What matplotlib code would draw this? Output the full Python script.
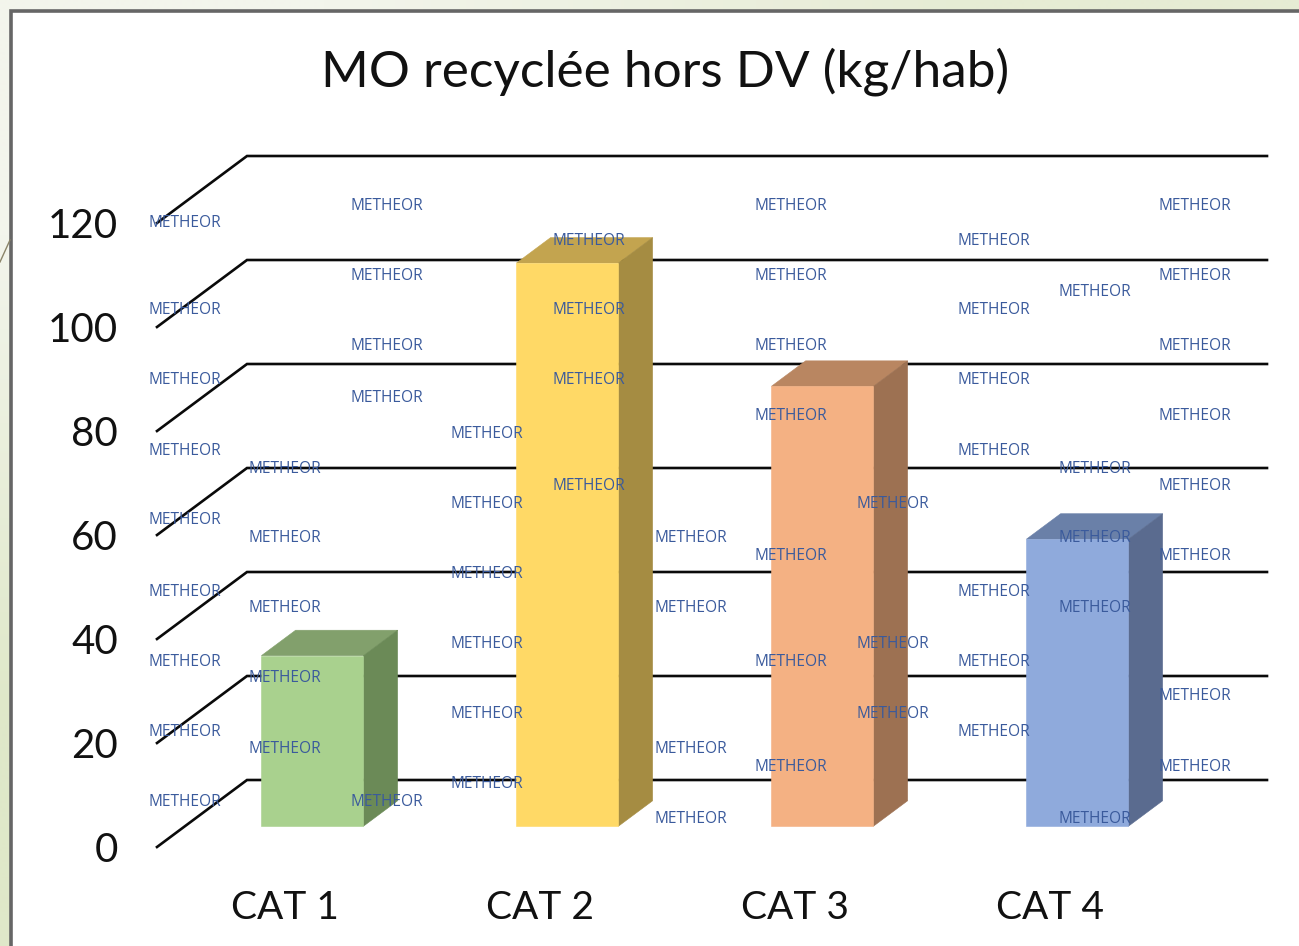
import matplotlib
matplotlib.use("Agg")
import numpy as np
import matplotlib.pyplot as plt
from matplotlib.colors import to_rgb
from matplotlib.patches import Rectangle

# Data ---------------------------------------------------------------------
categorias = ["CAT 1", "CAT 2", "CAT 3", "CAT 4"]
valores = [32.8, 108.3, 84.6, 55.2]
ticks_y = [0, 20, 40, 60, 80, 100, 120]
titulo = "MO recyclée hors DV (kg/hab)"
marca = "METHEOR"

color_frente = ["#A9D18E", "#FFD966", "#F4B183", "#8FAADC"]
color_techo = ["#82A06C", "#C3A44F", "#B98661", "#6A80A8"]
color_lado = ["#6B8A57", "#A58C42", "#9D7152", "#5A6B8F"]

W, H = 1299, 946
FUENTE = ["Lato", "DejaVu Sans"]
plt.rcParams["font.family"] = FUENTE


def main():
    fig = plt.figure(figsize=(W / 100, H / 100), dpi=100, facecolor="#EBF0DC")

    # pale green slide background behind the panel
    fondo = fig.add_axes([0, 0, 1, 1], zorder=-3)
    esquinas = np.array([[to_rgb("#F3F5EC"), to_rgb("#E6ECD4")],
                         [to_rgb("#DFE8C9"), to_rgb("#DFE8C9")]])
    fondo.imshow(esquinas, aspect="auto", interpolation="bilinear")
    fondo.axis("off")

    # white panel with the grey border, runs off the right and bottom edges
    fig.add_artist(Rectangle((11.3 / W, -0.1), 1.2, 1.1 - 11 / H, transform=fig.transFigure,
                             facecolor="white", edgecolor="#666666", lw=2.6, zorder=-2))
    fig.add_artist(plt.Line2D([0, 10 / W], [1 - 262 / H, 1 - 240 / H], color="#8A8468", lw=1, zorder=-2))

    ax = fig.add_axes([157 / W, 1 - 847 / H, 1020 / W, 624 / H])
    ax.patch.set_alpha(0)
    ax.set_xlim(-0.5, 3.5)
    ax.set_ylim(0, 120)
    for s in ax.spines.values():
        s.set_visible(False)

    # depth of the 3D box, in data units
    prof_x = 90 / 255
    prof_y = 67 / 5.2

    # floor and wall lines
    for t in ticks_y:
        ax.plot([-0.5, -0.5 + prof_x, 3.5 + prof_x], [t, t + prof_y, t + prof_y],
                color="#0A0A0A", lw=1.9, clip_on=False, zorder=1, solid_joinstyle="miter")

    # bars
    ancho = 0.4
    for i, v in enumerate(valores):
        x0 = i - ancho / 2 + prof_x * 0.31
        x1 = x0 + ancho
        y0 = prof_y * 0.31
        y1 = y0 + v
        dx = prof_x * 0.38
        dy = prof_y * 0.38
        ax.fill([x0, x1, x1 + dx, x0 + dx], [y1, y1, y1 + dy, y1 + dy],
                color=color_techo[i], lw=0.4, clip_on=False, zorder=2)
        ax.fill([x1, x1 + dx, x1 + dx, x1], [y0, y0 + dy, y1 + dy, y1],
                color=color_lado[i], lw=0.4, clip_on=False, zorder=2)
        ax.fill([x0, x1, x1, x0], [y0, y0, y1, y1],
                color=color_frente[i], lw=0.4, clip_on=False, zorder=3)

    ax.set_xticks(range(len(categorias)), categorias)
    ax.set_yticks(ticks_y)
    ax.tick_params(axis="x", length=0, pad=31, labelsize=28, labelcolor="#111111")
    ax.tick_params(axis="y", length=0, pad=28, labelsize=29, labelcolor="#111111")

    fig.text(665 / W, 1 - 72 / H, titulo, ha="center", va="center", fontsize=37, color="#111111")

    # watermark columns: left edge -> centre of each stamp, in pixels
    columnas = {
        148: [221, 309, 379, 449, 519, 590, 660, 730, 800],
        249: [467, 537, 607, 677, 747],
        350: [204, 274, 344, 397, 800],
        451: [432, 502, 572, 642, 712, 782],
        552: [239, 309, 379, 484],
        654: [537, 607, 747, 817],
        755: [204, 274, 344, 414, 554, 660, 765],
        856: [502, 642, 712],
        957: [239, 309, 379, 449, 590, 660, 730],
        1058: [291, 467, 537, 607, 817],
        1159: [204, 274, 344, 414, 484, 554, 695, 765],
    }
    for x, filas in columnas.items():
        for y in filas:
            fig.text(x / W, 1 - (y + 1.5) / H, marca, ha="left", va="center", fontsize=11.2,
                     family=["Open Sans", "DejaVu Sans"], color="#3A5A9C", zorder=10)

    fig.savefig("out.png", dpi=100, facecolor=fig.get_facecolor())


if __name__ == "__main__":
    main()
